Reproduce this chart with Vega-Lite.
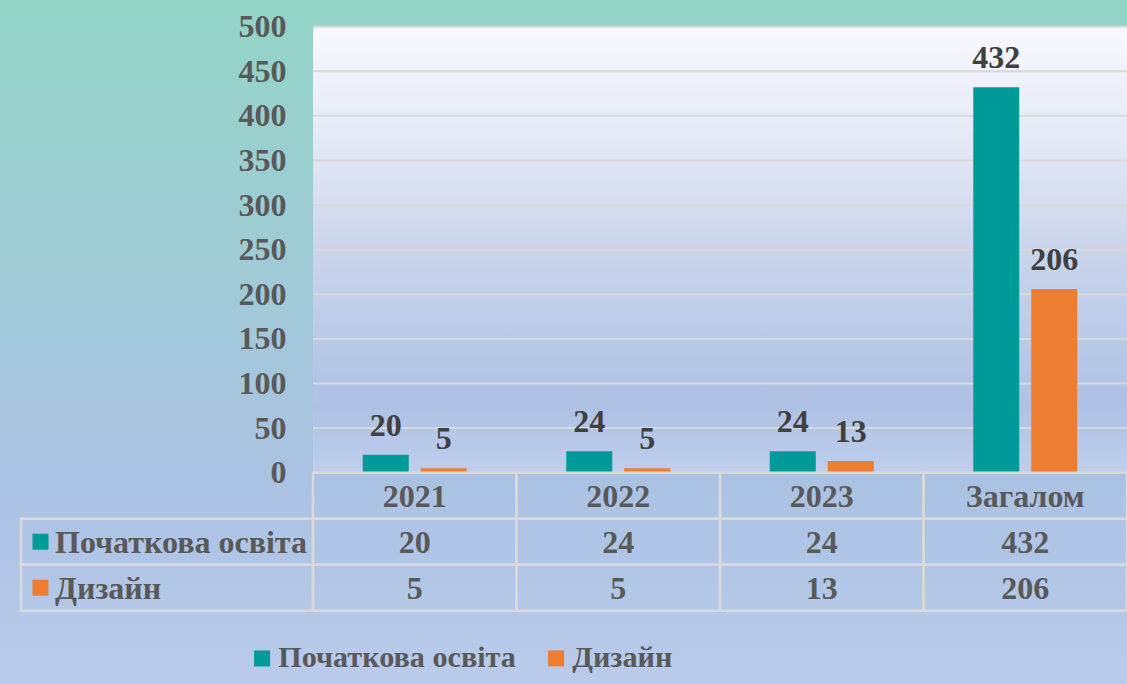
{
  "$schema": "https://vega.github.io/schema/vega-lite/v6.json",
  "width": 1127,
  "height": 684,
  "autosize": {"type": "none"},
  "padding": 0,
  "background": "#A3C8D9",
  "config": {
    "font": "Liberation Serif",
    "view": {
      "stroke": null,
      "fill": {
        "gradient": "linear", "x1": 0, "y1": 0, "x2": 0, "y2": 1,
        "stops": [
          {"offset": 0, "color": "#93D4C6"},
          {"offset": 0.3, "color": "#9CCDD2"},
          {"offset": 0.7, "color": "#AAC2E2"},
          {"offset": 1, "color": "#BACBEB"}
        ]
      }
    }
  },
  "datasets": {
    "main": [
      {"cat": "2021", "series": "Початкова освіта", "value": 20},
      {"cat": "2021", "series": "Дизайн", "value": 5},
      {"cat": "2022", "series": "Початкова освіта", "value": 24},
      {"cat": "2022", "series": "Дизайн", "value": 5},
      {"cat": "2023", "series": "Початкова освіта", "value": 24},
      {"cat": "2023", "series": "Дизайн", "value": 13},
      {"cat": "Загалом", "series": "Початкова освіта", "value": 432},
      {"cat": "Загалом", "series": "Дизайн", "value": 206}
    ],
    "grid": [
      {"g": 50}, {"g": 100}, {"g": 150}, {"g": 200}, {"g": 250},
      {"g": 300}, {"g": 350}, {"g": 400}, {"g": 450}, {"g": 500}
    ]
  },
  "layer": [
    {
      "data": {"name": "main"},
      "layer": [
        {
          "transform": [{"filter": "datum.cat == '2021' && datum.series == 'Дизайн'"}],
          "mark": {
            "type": "rect",
            "fill": {
              "gradient": "linear", "x1": 0, "y1": 0, "x2": 0, "y2": 1,
              "stops": [
                {"offset": 0, "color": "#F8F9FD"},
                {"offset": 0.25, "color": "#E4E9F5"},
                {"offset": 0.5, "color": "#CAD5EC"},
                {"offset": 0.85, "color": "#AEC1E4"},
                {"offset": 1, "color": "#BFCEEC"}
              ]
            }
          },
          "encoding": {
            "x": {
              "datum": "2021", "type": "nominal", "bandPosition": 0, "axis": null,
              "scale": {"type": "band", "domain": ["2021", "2022", "2023", "Загалом"], "paddingInner": 0, "paddingOuter": 0.76904, "align": 1}
            },
            "x2": {"datum": "Загалом", "bandPosition": 1},
            "y": {
              "datum": 500, "type": "quantitative",
              "scale": {"domain": [-236.9, 529.9], "nice": false, "zero": false},
              "axis": {
                "orient": "left", "offset": -313, "values": [0, 50, 100, 150, 200, 250, 300, 350, 400, 450, 500],
                "domain": false, "ticks": false, "tickSize": 0, "grid": false, "labelPadding": 27,
                "labelFont": "Liberation Serif", "labelFontSize": 32, "labelFontWeight": "bold", "labelColor": "#595959",
                "title": null, "labelBound": false, "labelOverlap": false, "labelFlush": false
              }
            },
            "y2": {"datum": 0}
          }
        },
        {
          "data": {"name": "grid"},
          "mark": {"type": "rule", "color": "#D9D9D9", "strokeWidth": 2},
          "encoding": {
            "x": {"datum": "2021", "type": "nominal", "bandPosition": 0},
            "x2": {"datum": "Загалом", "bandPosition": 1},
            "y": {"field": "g", "type": "quantitative"}
          }
        },
        {
          "mark": {"type": "bar"},
          "encoding": {
            "x": {"field": "cat", "type": "nominal"},
            "xOffset": {
              "field": "series", "type": "nominal",
              "scale": {"domain": ["Початкова освіта", "Дизайн"], "paddingInner": 0.207, "paddingOuter": 0.858}
            },
            "y": {"field": "value", "type": "quantitative"},
            "y2": {"datum": 0},
            "color": {
              "field": "series", "type": "nominal",
              "scale": {"domain": ["Початкова освіта", "Дизайн"], "range": ["#009A98", "#ED7D31"]},
              "legend": {
                "orient": "none", "direction": "horizontal", "legendX": 247, "legendY": 643,
                "title": null, "symbolType": "square", "symbolSize": 256, "symbolStrokeWidth": 0,
                "labelFont": "Liberation Serif", "labelFontSize": 30.2, "labelFontWeight": "bold",
                "labelColor": "#595959", "labelOffset": 1, "columnPadding": 25, "padding": 0, "labelLimit": 400
              }
            }
          }
        },
        {
          "mark": {"type": "text", "baseline": "alphabetic", "align": "center", "dy": -19, "font": "Liberation Serif", "fontSize": 32, "fontWeight": "bold", "color": "#404040"},
          "encoding": {
            "x": {"field": "cat", "type": "nominal"},
            "xOffset": {"field": "series", "type": "nominal"},
            "y": {"field": "value", "type": "quantitative"},
            "text": {"field": "value", "type": "quantitative"}
          }
        }
      ]
    },
    {
      "data": {"name": "main"},
      "layer": [
        {
          "mark": {"type": "rect", "fill": "transparent", "stroke": "#D9D9D9", "strokeWidth": 2.5},
          "encoding": {
            "x": {
              "field": "cat", "type": "nominal", "axis": null,
              "scale": {"type": "band", "domain": ["2021", "2022", "2023", "Загалом"], "paddingInner": 0, "paddingOuter": 0.76904, "align": 1}
            },
            "y": {
              "field": "series", "type": "nominal", "axis": null,
              "scale": {"type": "band", "domain": ["hdr", "Початкова освіта", "Дизайн"], "range": [472.7, 610.7], "paddingInner": 0, "paddingOuter": 0}
            }
          }
        },
        {
          "transform": [{"filter": "datum.series == 'Дизайн'"}],
          "mark": {"type": "rect", "fill": "transparent", "stroke": "#D9D9D9", "strokeWidth": 2.5},
          "encoding": {
            "x": {"field": "cat", "type": "nominal"},
            "y": {"datum": "hdr", "type": "nominal"}
          }
        },
        {
          "mark": {"type": "text", "baseline": "middle", "align": "center", "dy": 1, "font": "Liberation Serif", "fontSize": 32, "fontWeight": "bold", "color": "#595959"},
          "encoding": {
            "x": {"field": "cat", "type": "nominal"},
            "y": {"field": "series", "type": "nominal"},
            "text": {"field": "value", "type": "quantitative"}
          }
        },
        {
          "transform": [{"filter": "datum.series == 'Дизайн'"}],
          "mark": {"type": "text", "baseline": "middle", "align": "center", "dy": 1, "font": "Liberation Serif", "fontSize": 32, "fontWeight": "bold", "color": "#595959"},
          "encoding": {
            "x": {"field": "cat", "type": "nominal"},
            "y": {"datum": "hdr", "type": "nominal"},
            "text": {"field": "cat", "type": "nominal"}
          }
        }
      ]
    },
    {
      "data": {"name": "main"},
      "transform": [{"filter": "datum.cat == '2021'"}],
      "layer": [
        {
          "mark": {"type": "rect", "fill": "transparent", "stroke": "#D9D9D9", "strokeWidth": 2.5},
          "encoding": {
            "x": {
              "datum": "h", "type": "nominal", "axis": null,
              "scale": {"type": "band", "domain": ["h"], "range": [21, 313], "paddingInner": 0, "paddingOuter": 0}
            },
            "y": {
              "field": "series", "type": "nominal", "axis": null,
              "scale": {"type": "band", "domain": ["hdr", "Початкова освіта", "Дизайн"], "range": [472.7, 610.7], "paddingInner": 0, "paddingOuter": 0}
            }
          }
        },
        {
          "mark": {"type": "point", "shape": "square", "filled": true, "size": 256, "opacity": 1},
          "encoding": {
            "x": {"datum": "h", "type": "nominal", "bandPosition": 0.0668},
            "y": {"field": "series", "type": "nominal"},
            "color": {"field": "series", "type": "nominal"}
          }
        },
        {
          "mark": {"type": "text", "baseline": "middle", "align": "left", "dy": 1, "font": "Liberation Serif", "fontSize": 32, "fontWeight": "bold", "color": "#595959"},
          "encoding": {
            "x": {"datum": "h", "type": "nominal", "bandPosition": 0.1164},
            "y": {"field": "series", "type": "nominal"},
            "text": {"field": "series", "type": "nominal"}
          }
        }
      ]
    }
  ],
  "resolve": {"scale": {"x": "independent", "y": "independent"}}
}
